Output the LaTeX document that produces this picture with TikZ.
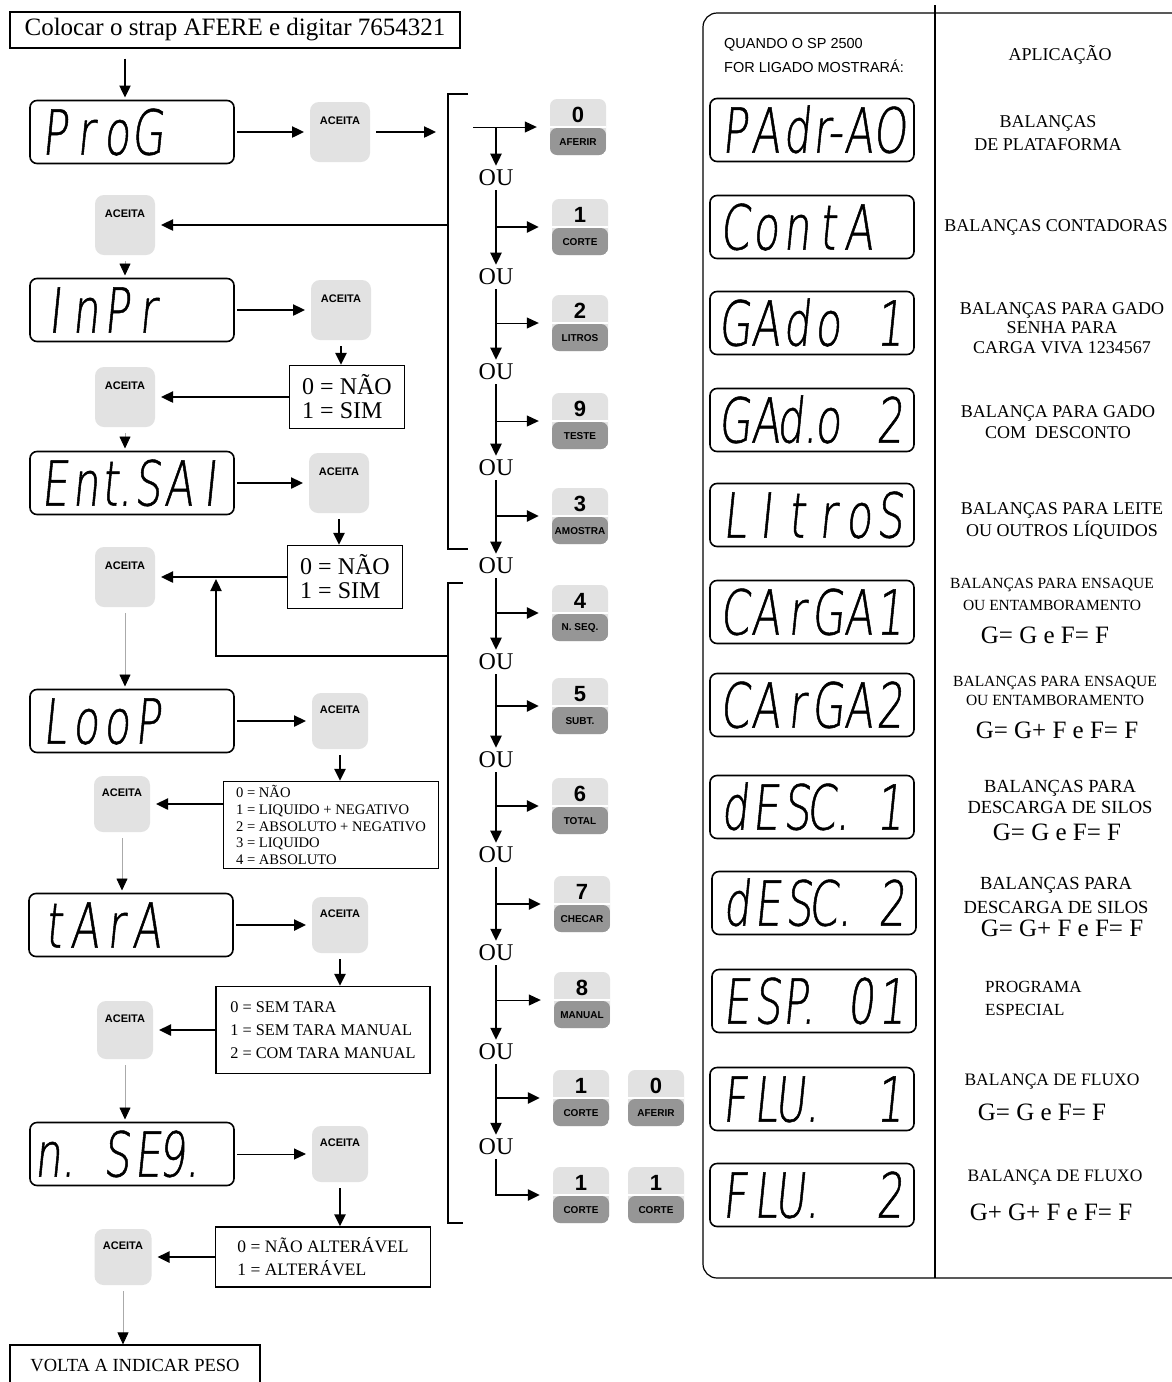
\documentclass[tikz,border=0pt]{standalone}
\usepackage{fontspec}
\setmainfont{Liberation Serif}
\newfontfamily\arial{Liberation Sans}
\newfontfamily\segfont[FakeSlant=0.1,FakeStretch=0.68,FakeBold=0.8]{DejaVu Sans ExtraLight}
\usetikzlibrary{arrows.meta,positioning,calc}
\definecolor{teclaC}{RGB}{226,226,226}
\definecolor{teclaE}{RGB}{150,150,150}
\definecolor{finoC}{RGB}{170,170,170}
\newcommand{\segs}[1]{\makebox[186pt][l]{\foreach \ch in {#1}{\makebox[31pt][c]{\ch}}}}
\newcommand{\tecla}[4]{\node[tecla] (#1) at (#2) {#3};
  \node[rotulo] (#1r) at ([yshift=-15pt]#1.center) {#4};}
\tikzset{
  visor/.style={rectangle, rounded corners=7pt, draw, line width=1.6pt, minimum width=204pt, minimum height=63pt,
                inner sep=0pt, outer sep=3pt, text height=45pt, text depth=0pt, font=\segfont\fontsize{62}{62}\selectfont},
  aceita/.style={rectangle, rounded corners=9pt, fill=teclaC, minimum width=60pt, minimum height=60pt, inner sep=0pt,
                 outer sep=6pt, text depth=22pt, font=\arial\bfseries\fontsize{11}{11}\selectfont},
  tecla/.style={rectangle, rounded corners=7pt, fill=teclaC, minimum width=56pt, minimum height=56pt, inner sep=0pt,
                text depth=24pt, font=\arial\bfseries\fontsize{22}{22}\selectfont,
                path picture={\fill[teclaE] ([yshift=-1pt]path picture bounding box.west) rectangle (path picture bounding box.south east);
                              \draw[white, line width=1.2pt] (path picture bounding box.west) -- (path picture bounding box.east);}},
  rotulo/.style={font=\arial\bfseries\fontsize{10}{10}\selectfont, inner sep=0pt},
  caixa/.style={rectangle, draw, line width=1.2pt, align=left, inner sep=0pt},
  ou/.style={font=\fontsize{24}{24}\selectfont, inner sep=4pt},
  aplic/.style={align=center, font=\fontsize{18}{23}\selectfont, inner sep=0pt},
  formula/.style={font=\fontsize{25}{25}\selectfont, inner sep=0pt},
  arr/.style={-{Triangle[length=12pt,width=11pt]}, line width=2.4pt},
  arrf/.style={-{Triangle[length=12pt,width=11pt]}, line width=1pt},
  ramo/.style={arr, shorten >=13pt},
  ramof/.style={arrf, shorten >=13pt},
  cinza/.style={-{Triangle[length=12pt,width=11pt,color=black]}, line width=0.8pt, draw=finoC},
}

\begin{document}
\begin{tikzpicture}[x=1pt, y=-1pt]
  \path[use as bounding box, fill=white] (0,0) rectangle (1171,1382);

  % coluna da esquerda
  \node[caixa, minimum width=450pt, minimum height=36pt, font=\fontsize{25}{25}\selectfont] (topo) at (235,30)
    {Colocar o strap AFERE e digitar 7654321};
  \node[visor] (prog) at (132,132) {\segs{P,r,o,G}};
  \node[aceita] (a1) at (340,132) {ACEITA};
  \node[aceita] (a2) at (125,225) {ACEITA};
  \node[visor] (inpr) at (132,310) {\segs{I,n,P,r}};
  \node[aceita] (a3) at (341,310) {ACEITA};
  \node[caixa, minimum width=115pt, minimum height=63pt, font=\fontsize{24}{24}\selectfont] (sn1) at (347,397) {0 = NÃO\\1 = SIM};
  \node[aceita] (a4) at (125,397) {ACEITA};
  \node[visor] (entsai) at (132,483) {\segs{E,n,t.,S,A,I}};
  \node[aceita] (a5) at (339,483) {ACEITA};
  \node[caixa, minimum width=115pt, minimum height=63pt, font=\fontsize{24}{24}\selectfont] (sn2) at (345,577) {0 = NÃO\\1 = SIM};
  \node[aceita] (a6) at (125,577) {ACEITA};
  \node[visor] (loop) at (132,721) {\segs{L,o,o,P}};
  \node[aceita, minimum width=56pt, minimum height=56pt] (a7) at (340,721) {ACEITA};
  \node[caixa, minimum width=215pt, minimum height=87pt, font=\fontsize{14.6}{16.7}\selectfont] (lp) at (331,825)
    {0 = NÃO\\1 = LIQUIDO + NEGATIVO\\2 = ABSOLUTO + NEGATIVO\\3 = LIQUIDO\\4 = ABSOLUTO};
  \node[aceita, minimum width=56pt, minimum height=56pt] (a8) at (122,804) {ACEITA};
  \node[visor] (tara) at (131,925) {\segs{t,A,r,A}};
  \node[aceita, minimum width=56pt, minimum height=56pt] (a9) at (340,925) {ACEITA};
  \node[caixa, minimum width=214pt, minimum height=87pt, font=\fontsize{16.3}{23}\selectfont] (tr) at (323,1030)
    {0 = SEM TARA\\1 = SEM TARA MANUAL\\2 = COM TARA MANUAL};
  \node[aceita, minimum width=56pt, minimum height=58pt] (a10) at (125,1030) {ACEITA};
  \node[visor] (nseq) at (132,1154) {\segs{n.,{},S,E,9.}};
  \node[aceita, minimum width=56pt, minimum height=56pt] (a11) at (340,1154) {ACEITA};
  \node[caixa, minimum width=215pt, minimum height=60pt, font=\fontsize{17.5}{23}\selectfont] (alt) at (323,1257)
    {0 = NÃO ALTERÁVEL\\1 = ALTERÁVEL};
  \node[aceita, minimum width=57pt, minimum height=56pt] (a12) at (123,1257) {ACEITA};
  \node[caixa, minimum width=250pt, minimum height=40pt, font=\fontsize{18.5}{18.5}\selectfont] (volta) at (135,1365)
    {VOLTA A INDICAR PESO};

  % colchetes
  \draw[line width=1.3pt] (468,94) -- (448,94) -- (448,549) -- (468,549);
  \draw[line width=1.3pt] (463,583) -- (448,583) -- (448,1223) -- (463,1223);
  \coordinate (b1in) at (436,132); \coordinate (b1out) at (448,225);
  \coordinate (b2out) at (448,656); \coordinate (juncao) at (216,579);

  % teclas
  \tecla{k0}{578,127}{0}{AFERIR}
  \tecla{k1}{580,227}{1}{CORTE}
  \tecla{k2}{580,323}{2}{LITROS}
  \tecla{k9}{580,421}{9}{TESTE}
  \tecla{k3}{580,516}{3}{AMOSTRA}
  \tecla{k4}{580,613}{4}{N. SEQ.}
  \tecla{k5}{580,706}{5}{SUBT.}
  \tecla{k6}{580,806}{6}{TOTAL}
  \tecla{k7}{582,904}{7}{CHECAR}
  \tecla{k8}{582,1000}{8}{MANUAL}
  \tecla{k10a}{581,1098}{1}{CORTE}
  \tecla{k10b}{656,1098}{0}{AFERIR}
  \tecla{k11a}{581,1195}{1}{CORTE}
  \tecla{k11b}{656,1195}{1}{CORTE}

  \node[ou] (ou1) at (496,178) {OU};
  \node[ou] (ou2) at (496,277) {OU};
  \node[ou] (ou3) at (496,372) {OU};
  \node[ou] (ou4) at (496,468) {OU};
  \node[ou] (ou5) at (496,566) {OU};
  \node[ou] (ou6) at (496,662) {OU};
  \node[ou] (ou7) at (496,760) {OU};
  \node[ou] (ou8) at (496,855) {OU};
  \node[ou] (ou9) at (496,953) {OU};
  \node[ou] (ou10) at (496,1052) {OU};
  \node[ou] (ou11) at (496,1147) {OU};
  \coordinate (s0) at (473,127);

  % painel da direita
  \draw[line width=1.2pt, rounded corners=14pt] (1190,13) -- (703,13) -- (703,1278) -- (1190,1278);
  \draw[line width=1.2pt] (935,5) -- (935,1278);
  \node[font=\arial\fontsize{14.5}{24}\selectfont, align=left, anchor=west, inner sep=0pt] (cab) at (724,56)
    {QUANDO O SP 2500\\FOR LIGADO MOSTRARÁ:};
  \node[aplic] (ap0) at (1060,55) {APLICAÇÃO};
  \node[visor] (v1) at (812,130) {\segs{P,A,d,r-,A,O}};
  \node[visor] (v2) at (812,227) {\segs{C,o,n,t,A}};
  \node[visor] (v3) at (812,323) {\segs{G,A,d,o,{},1}};
  \node[visor] (v4) at (812,420) {\segs{G,A,d.,o,{},2}};
  \node[visor] (v5) at (812,515) {\segs{L,I,t,r,o,S}};
  \node[visor] (v6) at (812,612) {\segs{C,A,r,G,A,1}};
  \node[visor] (v7) at (812,705) {\segs{C,A,r,G,A,2}};
  \node[visor] (v8) at (812,807) {\segs{d,E,S,C.,{},1}};
  \node[visor] (v9) at (814,903) {\segs{d,E,S,C.,{},2}};
  \node[visor] (v10) at (814,1001) {\segs{E,S,P.,{},0,1}};
  \node[visor] (v11) at (812,1099) {\segs{F,L,U.,{},{},1}};
  \node[visor] (v12) at (812,1195) {\segs{F,L,U.,{},{},2}};

  \node[aplic] (ap1) at (1048,133) {BALANÇAS\\DE PLATAFORMA};
  \node[aplic] (ap2) at (1056,227) {BALANÇAS CONTADORAS};
  \node[aplic, font=\fontsize{18}{19.5}\selectfont] (ap3) at (1062,328) {BALANÇAS PARA GADO\\SENHA PARA\\CARGA VIVA 1234567};
  \node[aplic, font=\fontsize{18}{21}\selectfont] (ap4) at (1058,422) {BALANÇA PARA GADO\\COM\ \ DESCONTO};
  \node[aplic, font=\fontsize{18}{22}\selectfont] (ap5) at (1062,521) {BALANÇAS PARA LEITE\\OU OUTROS LÍQUIDOS};
  \node[aplic, font=\fontsize{15.5}{22}\selectfont] (ap6) at (1052,594) {BALANÇAS PARA ENSAQUE\\OU ENTAMBORAMENTO};
  \node[formula] (ap6f) at (1045,635) {G= G e F= F};
  \node[aplic, font=\fontsize{15.5}{19}\selectfont] (ap7) at (1055,691) {BALANÇAS PARA ENSAQUE\\OU ENTAMBORAMENTO};
  \node[formula] (ap7f) at (1057,730) {G= G+ F e F= F};
  \node[aplic, font=\fontsize{18.5}{21}\selectfont] (ap8) at (1060,797) {BALANÇAS PARA\\DESCARGA DE SILOS};
  \node[formula] (ap8f) at (1057,832) {G= G e F= F};
  \node[aplic, font=\fontsize{18.5}{24}\selectfont] (ap9) at (1056,895) {BALANÇAS PARA\\DESCARGA DE SILOS};
  \node[formula] (ap9f) at (1062,928) {G= G+ F e F= F};
  \node[aplic, font=\fontsize{17}{23}\selectfont, align=left, anchor=west] (ap10) at (985,998) {PROGRAMA\\ESPECIAL};
  \node[aplic, font=\fontsize{17.5}{20}\selectfont] (ap11) at (1052,1082) {BALANÇA DE FLUXO};
  \node[formula] (ap11f) at (1042,1112) {G= G e F= F};
  \node[aplic, font=\fontsize{17.5}{20}\selectfont] (ap12) at (1055,1178) {BALANÇA DE FLUXO};
  \node[formula] (ap12f) at (1051,1212) {G+ G+ F e F= F};

  % setas
  \draw[arr, shorten <=10pt] (topo.south -| a2) -- (prog.north -| a2);
  \draw[arr] (prog) -- (a1); \draw[arr] (a1) -- (b1in); \draw[arr] (b1out) -- (a2);
  \draw[cinza] (a2) -- (inpr.north -| a2);
  \draw[arr] (inpr) -- (a3); \draw[arr] (a3) -- (a3 |- sn1.north); \draw[arr] (sn1) -- (a4);
  \draw[cinza] (a4) -- (entsai.north -| a4);
  \draw[arr] (entsai) -- (a5); \draw[arr] (a5) -- (a5 |- sn2.north); \draw[arr] (sn2) -- (a6);
  \draw[arr] (b2out) -| (juncao);
  \draw[cinza] (a6) -- (loop.north -| a6);
  \draw[arr] (loop) -- (a7); \draw[arr] (a7) -- (a7 |- lp.north); \draw[arr] (lp.west |- a8) -- (a8);
  \draw[cinza] (a8) -- (tara.north -| a8);
  \draw[arr] (tara) -- (a9); \draw[arr] (a9) -- (a9 |- tr.north); \draw[arr] (tr) -- (a10);
  \draw[cinza] (a10) -- (nseq.north -| a10);
  \draw[arrf] (nseq) -- (a11); \draw[arr] (a11) -- (a11 |- alt.north); \draw[arr] (alt) -- (a12);
  \draw[cinza] (a12) -- (volta.north -| a12);

  \draw[ramof] (s0) -- (k0); \draw[arr] (ou1 |- s0) -- (ou1);
  \draw[arr] (ou1) -- (ou2); \draw[ramo] (ou1 |- k1) -- (k1);
  \draw[arr] (ou2) -- (ou3); \draw[ramof] (ou2 |- k2) -- (k2);
  \draw[arr] (ou3) -- (ou4); \draw[ramof] (ou3 |- k9) -- (k9);
  \draw[arr] (ou4) -- (ou5); \draw[ramo] (ou4 |- k3) -- (k3);
  \draw[arr] (ou5) -- (ou6); \draw[ramo] (ou5 |- k4) -- (k4);
  \draw[arr] (ou6) -- (ou7); \draw[ramo] (ou6 |- k5) -- (k5);
  \draw[arr] (ou7) -- (ou8); \draw[ramo] (ou7 |- k6) -- (k6);
  \draw[arr] (ou8) -- (ou9); \draw[ramo] (ou8 |- k7) -- (k7);
  \draw[arr] (ou9) -- (ou10); \draw[ramof] (ou9 |- k8) -- (k8);
  \draw[arr] (ou10) -- (ou11); \draw[ramo] (ou10 |- k10a) -- (k10a);
  \draw[ramo] (ou11) |- (k11a);
\end{tikzpicture}
\end{document}
